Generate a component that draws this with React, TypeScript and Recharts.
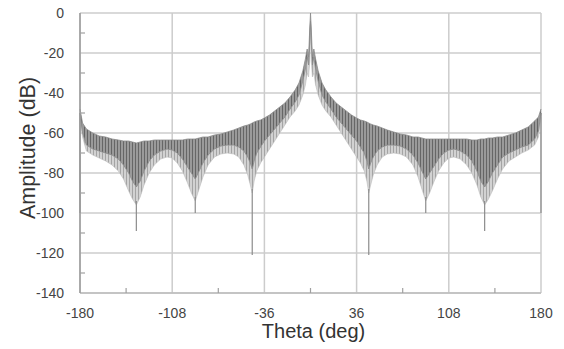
import { ComposedChart, Area, Line, XAxis, YAxis, CartesianGrid, Label } from 'recharts';

// envelope of the array pattern (deg / dB)
const theta = [
  -180, -178, -175, -170, -165, -160, -155, -150, -146, -142, -139, -136, -133, -130, -126, -122, -117, -112,
  -108, -104, -100, -96, -93, -90, -87, -84, -80, -75, -70, -65, -60, -56, -52, -49, -47, -45.5, -44, -42, -39,
  -36, -32, -28, -24, -20, -16, -12, -9, -6, -4, -2.6, -1.5, -0.6, 0,
  0.6, 1.5, 2.6, 4, 6, 9, 12, 16, 20, 24, 28, 32, 36, 39, 42, 44, 45.5, 47, 49, 52, 56, 60, 65, 70, 75, 80, 84,
  87, 90, 93, 96, 100, 104, 108, 112, 117, 122, 126, 130, 133, 136, 139, 142, 146, 150, 155, 160, 165, 170, 175,
  178, 180,
];

const upper = [
  -48, -55, -58, -60, -61.5, -62, -63, -63.5, -64, -64, -64.5, -65, -64.5, -64, -64, -63.5, -63.5, -63.5,
  -63.5, -63.5, -63.5, -63, -63, -63, -62.5, -62, -62, -61, -60.5, -59.5, -58.5, -57.5, -56.5, -56, -55.5, -55, -54.5, -54, -53.5,
  -52.5, -51, -49, -47, -45, -42, -38.5, -35, -29, -23, -18, -22, -8, 0,
  -8, -22, -18, -23, -29, -35, -38.5, -42, -45, -47, -49, -51, -52.5, -53.5, -54, -54.5, -55, -55.5, -56, -56.5, -57.5, -58.5, -59.5, -60.5, -61, -62, -62,
  -62.5, -63, -63, -63, -63, -63, -63, -63, -63, -63, -63.5, -63.5, -63, -63, -62.5, -62.5, -62, -62, -61, -60, -58.5, -57, -54,
  -52, -48,
];

const mid = [
  -50, -60, -66, -68, -69, -70, -71, -73, -76, -80, -84, -87, -84, -79, -74, -71, -69, -68,
  -68.5, -70, -73, -77, -80, -83, -79, -75, -71, -68, -66.5, -66, -66, -67, -69, -72, -75, -78, -74, -70, -67,
  -64, -61, -58, -55, -52, -48, -44.5, -41, -34, -28, -22, -26, -14, -4,
  -14, -26, -22, -28, -34, -41, -44.5, -48, -52, -55, -58, -61, -64, -67, -70, -74, -78, -75, -72, -69, -67, -66, -66, -66.5, -68, -71, -75,
  -79, -83, -80, -77, -73, -70, -68.5, -68, -69, -71, -74, -79, -84, -87, -84, -80, -76, -72, -70, -68.5, -67, -66, -63,
  -59, -50,
];

const lower = [
  -52, -62, -69, -71, -72.5, -74, -76, -79, -83, -89, -93, -96, -92, -86, -80, -76, -73, -72,
  -72.5, -75, -79, -85, -90, -94, -88, -82, -76, -72, -70.5, -70, -70.5, -72, -76, -81, -86, -90, -84, -79, -75,
  -72, -68, -64, -60, -56, -52, -49, -46, -41, -36, -30, -32, -24, -10,
  -24, -32, -30, -36, -41, -46, -49, -52, -56, -60, -64, -68, -72, -75, -79, -84, -90, -86, -81, -76, -72, -70.5, -70, -70.5, -72, -76, -82,
  -88, -94, -90, -85, -79, -75, -72.5, -72, -73, -76, -80, -86, -92, -96, -93, -89, -83, -78, -74, -72, -70, -68.5, -66,
  -62, -52,
];

// deep nulls: angle, top of spike, bottom of spike
const nullTheta = [-180, -136, -90, -45.5, 45.5, 90, 136, 180];
const nullTop = [-50, -94, -92, -88, -88, -92, -94, -50];
const nullBottom = [-100, -109, -100, -121, -121, -100, -109, -100];

const xMajor = [-180, -108, -36, 36, 108, 180];
const xTicks = [-180, -144, -108, -72, -36, 0, 36, 72, 108, 144, 180];
const yMajor = [0, -20, -40, -60, -80, -100, -120, -140];
const yTicks = [0, -10, -20, -30, -40, -50, -60, -70, -80, -90, -100, -110, -120, -130, -140];

const rows = theta.map((t, i) => ({ t, upper: upper[i], mid: mid[i], lower: lower[i] }));

const spikeRows: { t: number; v: number | null }[] = [];
nullTheta.forEach((t, i) => {
  spikeRows.push({ t, v: nullTop[i] });
  spikeRows.push({ t, v: nullBottom[i] });
  spikeRows.push({ t, v: null });
});

const FONT = '"Liberation Sans", Arial, sans-serif';
const Y_GAP = 16;
const X_GAP = 26;

const YTick = ({ x, y, payload }: any) => {
  const v = payload.value;
  if (v % 20 === 0) {
    return (
      <text x={x} y={y} dy="0.35em" textAnchor="end" fontSize={14} fill="#444" fontFamily={FONT}>
        {v}
      </text>
    );
  }
  return <line x1={x + Y_GAP} x2={x + Y_GAP + 5} y1={y} y2={y} stroke="#a0a0a0" strokeWidth={1.2} />;
};

const XTick = ({ x, y, payload }: any) => {
  const v = payload.value;
  if (xMajor.includes(v)) {
    return (
      <text x={x} y={y} dy={-1} textAnchor="middle" fontSize={14} fill="#444" fontFamily={FONT}>
        {v}
      </text>
    );
  }
  return <line x1={x} x2={x} y1={y - X_GAP} y2={y - X_GAP - 5} stroke="#a0a0a0" strokeWidth={1.2} />;
};

export default function App() {
  return (
    <div style={{ position: 'absolute', left: 0, top: 0, width: 564, height: 349, background: '#fff' }}>
      <ComposedChart width={564} height={349} data={rows} margin={{ top: 13, right: 23, left: 0, bottom: 0 }}>
        <defs>
          <pattern id="darkHatch" width="3" height="6" patternUnits="userSpaceOnUse">
            <rect width="3" height="6" fill="#9a9a9a" />
            <rect width="1" height="6" fill="#666666" />
          </pattern>
          <pattern id="lightHatch" width="3" height="6" patternUnits="userSpaceOnUse">
            <rect width="3" height="6" fill="#d2d2d2" />
            <rect width="1" height="6" fill="#a4a4a4" />
          </pattern>
        </defs>
        <CartesianGrid
          stroke="#cccccc"
          strokeWidth={1.5}
          horizontalValues={yMajor}
          verticalValues={xMajor}
        />
        <XAxis
          dataKey="t"
          type="number"
          domain={[-180, 180]}
          ticks={xTicks}
          interval={0}
          height={56}
          tickSize={0}
          tickMargin={X_GAP}
          tick={<XTick />}
          axisLine={{ stroke: '#bdbdbd', strokeWidth: 1.5 }}
          tickLine={false}
        >
          <Label
            content={({ viewBox }: any) => (
              <text
                x={viewBox.x + viewBox.width / 2 + 3}
                y={viewBox.y + 45}
                textAnchor="middle"
                fontSize={20}
                fill="#333"
                fontFamily={FONT}
              >
                Theta (deg)
              </text>
            )}
          />
        </XAxis>
        <YAxis
          type="number"
          domain={[-140, 0]}
          ticks={yTicks}
          interval={0}
          width={80}
          tickSize={0}
          tickMargin={Y_GAP}
          tick={<YTick />}
          axisLine={{ stroke: '#9a9a9a', strokeWidth: 1.5 }}
          tickLine={false}
        >
          <Label
            content={({ viewBox }: any) => (
              <text
                transform={`translate(${viewBox.x + 28}, ${viewBox.y + viewBox.height / 2 - 5}) rotate(-90)`}
                textAnchor="middle"
                dominantBaseline="central"
                fontSize={21.5}
                fill="#333"
                fontFamily={FONT}
              >
                Amplitude (dB)
              </text>
            )}
          />
        </YAxis>
        <Area
          type="linear"
          dataKey={(d: any) => [d.lower, d.mid]}
          fill="url(#lightHatch)"
          fillOpacity={1}
          stroke="#bcbcbc"
          strokeWidth={0.6}
          isAnimationActive={false}
          dot={false}
          activeDot={false}
        />
        <Area
          type="linear"
          dataKey={(d: any) => [d.mid, d.upper]}
          fill="url(#darkHatch)"
          fillOpacity={1}
          stroke="#8a8a8a"
          strokeWidth={0.8}
          isAnimationActive={false}
          dot={false}
          activeDot={false}
        />
        <Line
          data={spikeRows}
          dataKey="v"
          type="linear"
          stroke="#8c8c8c"
          strokeWidth={1.2}
          dot={false}
          activeDot={false}
          connectNulls={false}
          isAnimationActive={false}
        />
      </ComposedChart>
    </div>
  );
}
